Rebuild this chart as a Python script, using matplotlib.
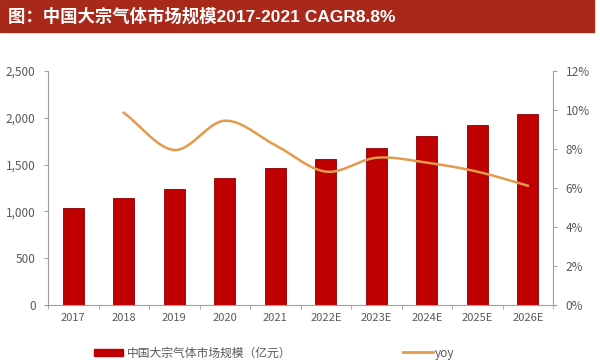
import numpy as np
import matplotlib
matplotlib.use('Agg')
import matplotlib.pyplot as plt
from matplotlib.patches import Rectangle
from matplotlib.lines import Line2D
from matplotlib.ticker import FuncFormatter, FixedLocator

plt.rcParams['font.family'] = ['Noto Sans CJK SC', 'DejaVu Sans']

# 数据
years = ['2017', '2018', '2019', '2020', '2021', '2022E', '2023E', '2024E', '2025E', '2026E']
market_size = [1036, 1143, 1239, 1357, 1464, 1560, 1677, 1806, 1923, 2040]
yoy_years = ['2018', '2019', '2020', '2021', '2022E', '2023E', '2024E', '2025E', '2026E']
yoy = [9.86, 7.95, 9.45, 8.2, 6.84, 7.55, 7.3, 6.84, 6.12]

bar_color = '#c00000'
line_color = '#e39a4c'
grey = '#595959'


def smooth(xs, ys, n=30):
    # catmull-rom, como a linha suavizada do excel
    xs = np.asarray(xs, float)
    ys = np.asarray(ys, float)
    px = np.concatenate([[2 * xs[0] - xs[1]], xs, [2 * xs[-1] - xs[-2]]])
    py = np.concatenate([[2 * ys[0] - ys[1]], ys, [2 * ys[-1] - ys[-2]]])
    outx, outy = [], []
    t = np.linspace(0, 1, n)
    for i in range(1, len(px) - 2):
        for p, out in ((px, outx), (py, outy)):
            p0, p1, p2, p3 = p[i - 1], p[i], p[i + 1], p[i + 2]
            out.extend(0.5 * ((2 * p1) + (-p0 + p2) * t
                              + (2 * p0 - 5 * p1 + 4 * p2 - p3) * t ** 2
                              + (-p0 + 3 * p1 - 3 * p2 + p3) * t ** 3))
    return outx, outy


fig = plt.figure(figsize=(6.0, 3.64), dpi=100)

# faixa do título
fig.patches.append(Rectangle((0, 1 - 32 / 364), 594 / 600, 32 / 364,
                             transform=fig.transFigure, color='#a8281a', zorder=0))
fig.text(8 / 600, 1 - 16 / 364, '图：中国大宗气体市场规模2017-2021 CAGR8.8%',
         color='white', fontsize=12.5, fontweight='bold', va='center', ha='left',
         family=['Liberation Sans', 'Noto Sans CJK SC'])

ax = fig.add_axes([48 / 600, 1 - 305 / 364, 505 / 600, 234 / 364])
x = np.arange(len(years))
ax.bar(x, market_size, width=0.42, color=bar_color, edgecolor='#8b0000', linewidth=0.6, zorder=2)
ax.set_xlim(-0.5, len(years) - 0.5)
ax.set_ylim(0, 2500)
ax.set_yticks(range(0, 2501, 500))
ax.yaxis.set_major_formatter(FuncFormatter(lambda v, p: f'{int(v):,}'))
ax.set_xticks(x)
ax.set_xticklabels(years)
ax.xaxis.set_minor_locator(FixedLocator(np.arange(-0.5, len(years), 1)))
ax.tick_params(axis='x', which='major', length=0, labelsize=8, colors=grey, pad=6)
ax.tick_params(axis='x', which='minor', length=3, color='#a0a0a0')
ax.tick_params(axis='y', length=3, labelsize=8.5, colors=grey, color='#a0a0a0', pad=6)
for s in ['top', 'right']:
    ax.spines[s].set_visible(False)
for s in ['left', 'bottom']:
    ax.spines[s].set_color('#a0a0a0')

ax2 = ax.twinx()
xi = [years.index(y) for y in yoy_years]
sx, sy = smooth(xi, yoy)
ax2.plot(sx, sy, color=line_color, linewidth=1.8, zorder=3)
ax2.set_ylim(0, 12)
ax2.set_yticks(range(0, 13, 2))
ax2.yaxis.set_major_formatter(FuncFormatter(lambda v, p: f'{int(v)}%'))
ax2.tick_params(axis='y', length=3, labelsize=8.5, colors=grey, color='#a0a0a0', pad=6)
for s in ['top', 'left', 'bottom']:
    ax2.spines[s].set_visible(False)
ax2.spines['right'].set_color('#a0a0a0')

# legenda
leg_y = 1 - 353 / 364
leg1 = fig.legend([Rectangle((0, 0), 1, 1, color=bar_color)], ['中国大宗气体市场规模（亿元）'],
                  loc='center left', bbox_to_anchor=(94 / 600, leg_y), frameon=False,
                  fontsize=8.5, labelcolor=grey, borderpad=0, borderaxespad=0,
                  handlelength=2.45, handleheight=0.55, handletextpad=0.35)
fig.legend([Line2D([0], [0], color=line_color, linewidth=2)], ['yoy'],
           loc='center left', bbox_to_anchor=(403 / 600, leg_y), frameon=False,
           fontsize=8.5, labelcolor=grey, borderpad=0, borderaxespad=0,
           handlelength=2.5, handletextpad=0.2)

fig.savefig('out.png', dpi=100)
